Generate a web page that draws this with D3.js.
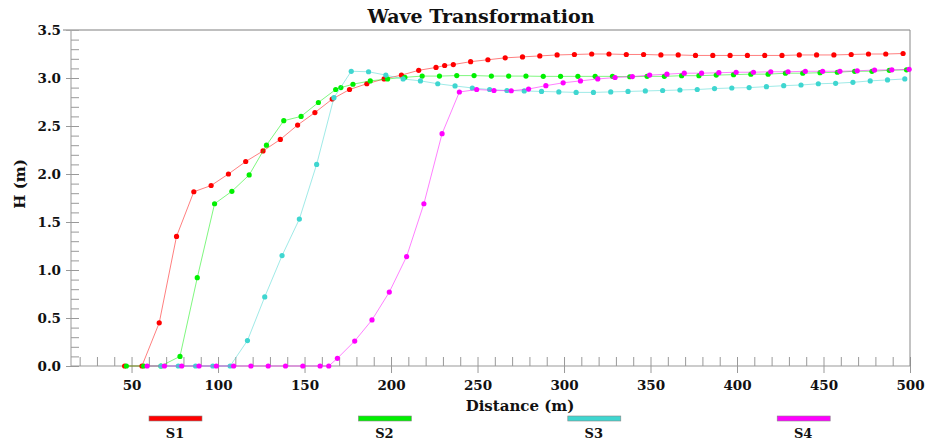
<!DOCTYPE html>
<html>
<head>
<meta charset="utf-8">
<script src="https://cdn.jsdelivr.net/npm/d3@7"></script>
<style>
  body { margin: 0; background: #fff; }
  svg { display: block; }
  text { font-family: 'DejaVu Serif', serif; font-weight: bold; fill: #111; }
</style>
</head>
<body>
<div id="chart"></div>
<script>
(function () {
  'use strict';
  /* global d3 */

  var w = 925,
      h = 447;

  // S1 (red)
  var s1Dist = [46, 56, 66, 76, 86, 96, 106, 116, 126, 136, 146, 156, 166, 176, 186, 196, 206, 216, 226, 231, 236,
    246, 256, 266, 276, 286, 296, 306, 316, 326, 336, 346, 356, 366, 376, 386, 396, 406, 416, 426, 436, 446, 456,
    466, 476, 486, 496];
  var s1H = [0, 0, 0.45, 1.35, 1.815, 1.88, 2.0, 2.13, 2.24, 2.36, 2.51, 2.64, 2.78, 2.88, 2.94, 2.99, 3.03, 3.08,
    3.11, 3.13, 3.14, 3.17, 3.19, 3.21, 3.22, 3.23, 3.24, 3.245, 3.25, 3.25, 3.245, 3.245, 3.24, 3.24, 3.235, 3.235,
    3.235, 3.235, 3.235, 3.235, 3.24, 3.24, 3.24, 3.245, 3.25, 3.25, 3.255];

  // S2 (green)
  var s2Dist = [47, 57, 67, 78, 88, 98, 108, 118, 128, 138, 148, 158, 168, 171, 178, 188, 198, 208, 218, 228, 238,
    248, 258, 268, 278, 288, 298, 308, 318, 328, 338, 348, 358, 368, 378, 388, 398, 408, 418, 428, 438, 448, 458,
    468, 478, 488, 498];
  var s2H = [0, 0, 0, 0.1, 0.92, 1.69, 1.82, 1.99, 2.30, 2.555, 2.60, 2.745, 2.88, 2.90, 2.935, 2.97, 2.99, 3.007,
    3.02, 3.02, 3.025, 3.025, 3.02, 3.02, 3.02, 3.017, 3.017, 3.017, 3.017, 3.017, 3.013, 3.017, 3.017, 3.024,
    3.024, 3.03, 3.035, 3.04, 3.04, 3.05, 3.05, 3.055, 3.06, 3.07, 3.07, 3.08, 3.085];

  // S3 (cyan)
  var s3Dist = [67, 77, 87, 97, 107, 117, 127, 137, 147, 157, 167, 177, 187, 197, 207, 217, 227, 237, 247, 257, 267,
    277, 287, 297, 307, 317, 327, 337, 347, 357, 367, 377, 387, 397, 407, 417, 427, 437, 447, 457, 467, 477, 487, 497];
  var s3H = [0, 0, 0, 0, 0, 0.265, 0.72, 1.15, 1.53, 2.10, 2.795, 3.07, 3.065, 3.03, 2.99, 2.97, 2.94, 2.917, 2.896,
    2.88, 2.87, 2.865, 2.86, 2.855, 2.85, 2.85, 2.855, 2.86, 2.865, 2.87, 2.875, 2.88, 2.89, 2.896, 2.90, 2.91, 2.92,
    2.927, 2.94, 2.945, 2.955, 2.97, 2.98, 2.99];

  // S4 (magenta)
  var s4Dist = [59, 69, 79, 89, 99, 109, 119, 129, 139, 149, 159, 164, 169, 179, 189, 199, 209, 219, 229.5, 239.5,
    249.5, 259.5, 269.5, 279.5, 289.5, 299.5, 309.5, 319.5, 329.5, 339.5, 349.5, 359.5, 369.5, 379.5, 389.5, 399.5,
    409.5, 419.5, 429.5, 439.5, 449.5, 459.5, 469.5, 479.5, 489.5, 499.5];
  var s4H = [0, 0, 0, 0, 0, 0, 0, 0, 0, 0, 0, 0, 0.08, 0.26, 0.48, 0.77, 1.14, 1.69, 2.42, 2.854, 2.88, 2.87, 2.867,
    2.885, 2.92, 2.95, 2.97, 2.99, 3.005, 3.015, 3.03, 3.04, 3.05, 3.05, 3.055, 3.06, 3.06, 3.065, 3.065, 3.07,
    3.07, 3.07, 3.075, 3.083, 3.085, 3.09];

  var seriesNames = ['S1', 'S2', 'S3', 'S4'];
  var seriesColors = ['#ff0000', '#00f000', '#3fd6d0', '#ff00ff'];
  var xMajorTicks = [50, 100, 150, 200, 250, 300, 350, 400, 450, 500];
  var yMajorTicks = [0, 0.5, 1.0, 1.5, 2.0, 2.5, 3.0, 3.5];

  var series = [
    {dist: s1Dist, h: s1H},
    {dist: s2Dist, h: s2H},
    {dist: s3Dist, h: s3H},
    {dist: s4Dist, h: s4H}
  ];

  var x = d3.scaleLinear().domain([15, 500]).range([71, 910]);
  var y = d3.scaleLinear().domain([0, 3.5]).range([366, 30]);

  var svg = d3.select('#chart')
    .append('svg')
    .attr('width', w)
    .attr('height', h);

  svg.append('text')
    .attr('x', 481)
    .attr('y', 23)
    .attr('text-anchor', 'middle')
    .style('font-size', '19px')
    .text('Wave Transformation');

  // minor ticks (inward)
  var xMinor = svg.append('g')
    .attr('transform', 'translate(0,' + y(0) + ')')
    .call(d3.axisBottom(x).tickValues(d3.range(20, 501, 10)).tickSizeInner(-9).tickSizeOuter(0).tickFormat(''));
  var yMinor = svg.append('g')
    .attr('transform', 'translate(' + x(15) + ',0)')
    .call(d3.axisLeft(y).tickValues(d3.range(0, 36).map(function (i) { return i / 10; }))
      .tickSizeInner(-8).tickSizeOuter(0).tickFormat(''));

  // major ticks with labels (outward)
  var xMajor = svg.append('g')
    .attr('transform', 'translate(0,' + y(0) + ')')
    .call(d3.axisBottom(x).tickValues(xMajorTicks).tickSizeInner(7).tickSizeOuter(0).tickPadding(7)
      .tickFormat(d3.format('d')));
  var yMajor = svg.append('g')
    .attr('transform', 'translate(' + x(15) + ',0)')
    .call(d3.axisLeft(y).tickValues(yMajorTicks).tickSizeInner(5).tickSizeOuter(0).tickPadding(5)
      .tickFormat(d3.format('.1f')));

  [xMinor, yMinor, xMajor, yMajor].forEach(function (g) {
    g.select('.domain').remove();
    g.selectAll('line').attr('stroke', '#999');
    g.selectAll('text')
      .attr('fill', '#111')
      .style('font-family', "'DejaVu Serif', serif")
      .style('font-weight', 'bold')
      .style('font-size', '13.5px');
  });

  // frame
  var frame = svg.append('g').attr('fill', 'none');
  frame.append('line')
    .attr('x1', x(15)).attr('x2', x(500)).attr('y1', y(0)).attr('y2', y(0))
    .attr('stroke', '#999');
  frame.append('line')
    .attr('x1', x(15)).attr('x2', x(15)).attr('y1', y(0)).attr('y2', y(3.5))
    .attr('stroke', '#999');
  frame.append('line')
    .attr('x1', x(15) - 8).attr('x2', x(500)).attr('y1', y(3.5)).attr('y2', y(3.5))
    .attr('stroke', '#aaa').attr('stroke-width', 1.5);
  frame.append('line')
    .attr('x1', x(500)).attr('x2', x(500)).attr('y1', y(3.5)).attr('y2', y(0))
    .attr('stroke', '#888');

  svg.append('text')
    .attr('x', 520)
    .attr('y', 411)
    .attr('text-anchor', 'middle')
    .style('font-size', '15px')
    .text('Distance (m)');

  svg.append('text')
    .attr('transform', 'translate(25,184) rotate(-90)')
    .attr('text-anchor', 'middle')
    .style('font-size', '15px')
    .text('H (m)');

  var lineFun = d3.line()
    .x(function (d) { return x(d[0]); })
    .y(function (d) { return y(d[1]); });

  series.forEach(function (s, i) {
    var pts = s.dist.map(function (d, j) { return [d, s.h[j]]; });
    var g = svg.append('g');
    g.append('path')
      .attr('d', lineFun(pts))
      .attr('fill', 'none')
      .attr('stroke', seriesColors[i])
      .attr('stroke-opacity', 0.5)
      .attr('stroke-width', 1);
    g.selectAll('circle')
      .data(pts)
      .enter()
      .append('circle')
      .attr('cx', function (d) { return x(d[0]); })
      .attr('cy', function (d) { return y(d[1]); })
      .attr('r', 2.6)
      .attr('fill', seriesColors[i]);
  });

  // legend
  var legend = svg.selectAll('.legend')
    .data(seriesNames)
    .enter()
    .append('g')
    .attr('class', 'legend')
    .attr('transform', function (d, i) { return 'translate(' + (149 + i * 209.4) + ',416)'; });

  legend.append('rect')
    .attr('width', 53)
    .attr('height', 5)
    .attr('fill', function (d, i) { return seriesColors[i]; })
    .attr('stroke', '#888')
    .attr('stroke-width', 0.6);

  legend.append('text')
    .attr('x', 26)
    .attr('y', 22)
    .attr('text-anchor', 'middle')
    .style('font-size', '13px')
    .text(function (d) { return d; });

}());
</script>
</body>
</html>
